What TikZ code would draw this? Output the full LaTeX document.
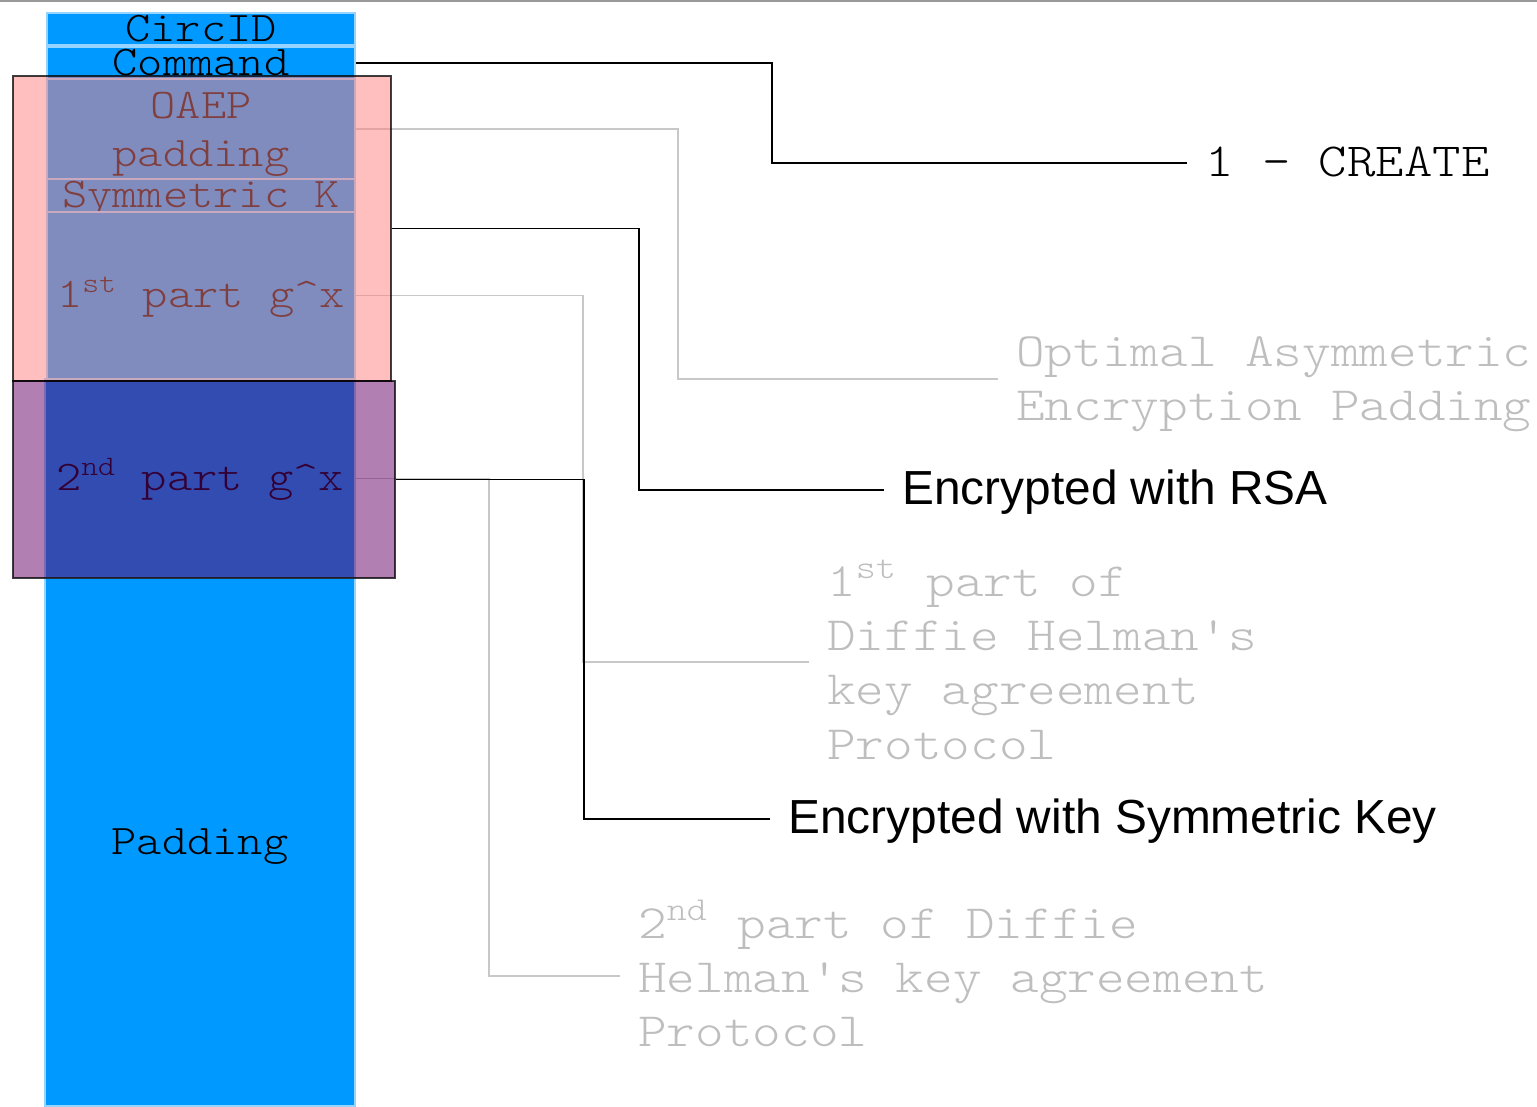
\documentclass[tikz,border=0pt]{standalone}
\usepackage{fontspec}
\newfontfamily\cour[FakeStretch=1.14]{lmmonolt10-regular.otf}
\newfontfamily\arialfont{Liberation Sans}
\definecolor{cellblue}{RGB}{0,153,255}
\definecolor{celledge}{RGB}{150,212,255}
\definecolor{rsapink}{RGB}{255,127,127}
\definecolor{sympurple}{RGB}{102,0,102}
\definecolor{notegray}{RGB}{190,190,190}
\definecolor{leadgray}{RGB}{200,200,200}

\begin{document}
\begin{tikzpicture}
[
    x=0.01cm, y=-0.01cm,
    cell/.style={fill=cellblue, draw=celledge, line width=0.4pt, minimum width=3.08cm, inner sep=0pt, text height=0.8em, text depth=0.09em, align=center, font=\cour\fontsize{12}{13.7}\selectfont},
    cover/.style={fill=#1, fill opacity=.5, draw=black, draw opacity=.75, line width=0.5pt, inner sep=0pt},
    note/.style={anchor=west, inner sep=0pt, inner xsep=5pt, text depth=0pt, align=left, text=notegray, font=\cour\fontsize{13.6}{15.4}\selectfont},
    tag/.style={anchor=west, inner sep=0pt, inner xsep=5pt, text height=1em, text depth=0.18em, font=\arialfont\fontsize{13.6}{16}\selectfont},
    lead/.style={leadgray, line width=0.45pt},
    link/.style={black, line width=0.45pt},
]
\useasboundingbox (0,0) rectangle (1537,1106);
\draw[gray!80, line width=0.5pt] (0,1) -- (1537,1);

% the cell, field by field
\node[cell, minimum height=0.32cm] (circid) at (201,29) {CircID};
\node[cell, minimum height=0.32cm] (command) at (201,63) {Command};
\node[cell, minimum height=1.00cm, text height={}, text depth=-0.1em] (oaep) at (201,129) {OAEP\\padding};
\node[cell, minimum height=0.33cm] (symkey) at (201,195.5) {Symmetric K};
\node[cell, minimum height=1.67cm] (gx1) at (201,295.5) {1\textsuperscript{st} part g\textasciicircum x};
\node[cell, minimum height=1.99cm, minimum width=3.10cm] (gx2) at (200,478.5) {2\textsuperscript{nd} part g\textasciicircum x};
\node[cell, minimum height=5.28cm, minimum width=3.10cm] (padding) at (200,842) {Padding};

% labels on the right
\node[note, text=black, text height=0.93em, text depth=0.19em, font=\cour\fontsize{13.5}{15.4}\selectfont] (create) at (1187,163) {1 - CREATE};
\node[note] (oaeplbl) at (998,379) {Optimal Asymmetric\\Encryption Padding};
\node[tag] (rsalbl) at (884,490) {Encrypted with RSA};
\node[note, text depth=0.15em] (dh1lbl) at (809,662) {1\textsuperscript{st} part of\\Diffie Helman's\\key agreement\\Protocol};
\node[tag] (symlbl) at (770,819) {Encrypted with Symmetric Key};
\node[note, text depth=0.15em] (dh2lbl) at (620,976) {2\textsuperscript{nd} part of Diffie\\Helman's key agreement\\Protocol};

% grey leaders go under the covers
\draw[lead] (oaep.east) -- ++(322,0) |- (oaeplbl.west);
\draw[lead] (gx1.east) -- ++(227,0) |- (dh1lbl.west);
\draw[lead] (gx2.east) -- ++(133,0) |- (dh2lbl.west);

% encrypted parts
\node[cover=rsapink, minimum width=3.78cm, minimum height=3.05cm] (rsabox) at (202,228.5) {};
\node[cover=sympurple, minimum width=3.82cm, minimum height=1.97cm] (symbox) at (204,479.5) {};

\draw[link] (command.east) -- ++(416,0) |- (create.west);
\draw[link] (rsabox.east) -- ++(247,0) |- (rsalbl.west);
\draw[link] (symbox.east) -- ++(188,0) |- (symlbl.west);
\end{tikzpicture}
\end{document}
